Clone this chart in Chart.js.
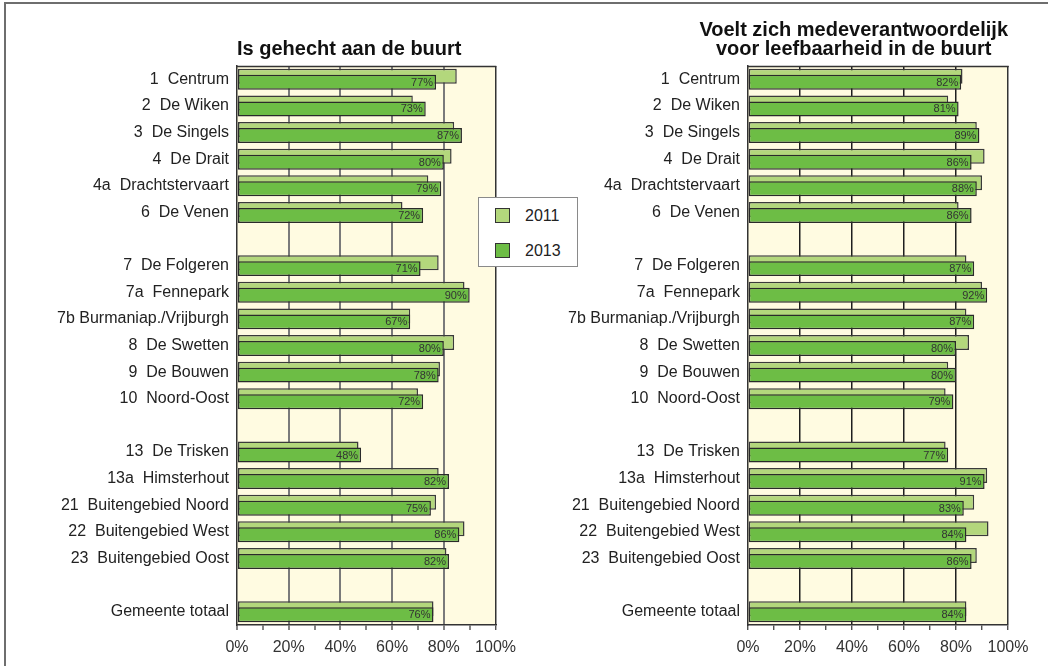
<!DOCTYPE html>
<html>
<head>
<meta charset="utf-8">
<script src="https://cdn.jsdelivr.net/npm/chart.js@4.4.1/dist/chart.umd.min.js"></script>
<style>
  html, body { margin: 0; padding: 0; background: #fff; }
  #page { position: relative; width: 1048px; height: 666px; overflow: hidden;
          font-family: "Liberation Sans", Arial, sans-serif; }
  #frame { position: absolute; left: 4px; top: 2px; width: 1100px; height: 700px;
           border-left: 2px solid #6e6e6e; border-top: 2px solid #6e6e6e; }
  canvas { position: absolute; top: 0; }
  #c1 { left: 0; }
  #c2 { left: 524px; }
  #legend { position: absolute; left: 478px; top: 197px; width: 98px; height: 68px;
            background: #fff; border: 1px solid #8a8a8a; }
  .item { position: absolute; left: 16px; height: 16px; font-size: 16px; line-height: 16px; color: #222; }
  .sw { position: absolute; left: 0; top: 0; width: 13px; height: 13px; border: 1px solid #333; }
  .lbl { position: absolute; left: 30px; top: 0; white-space: nowrap; }
</style>
</head>
<body>
<div id="page">
  <div id="frame"></div>
  <canvas id="c1" width="524" height="666"></canvas>
  <canvas id="c2" width="524" height="666"></canvas>
  <div id="legend"></div>
</div>
<script>
// Wijken (lege regels scheiden de groepen)
const categories = [
  '1  Centrum', '2  De Wiken', '3  De Singels', '4  De Drait', '4a  Drachtstervaart', '6  De Venen',
  '',
  '7  De Folgeren', '7a  Fennepark', '7b Burmaniap./Vrijburgh', '8  De Swetten', '9  De Bouwen', '10  Noord-Oost',
  '',
  '13  De Trisken', '13a  Himsterhout', '21  Buitengebied Noord', '22  Buitengebied West', '23  Buitengebied Oost',
  '',
  'Gemeente totaal'
];

const years = ['2011', '2013'];
const yearColors = ['#b3d77c', '#6dbd45'];

// Is gehecht aan de buurt (%)
const gehecht2011 = [85, 68, 84, 83, 74, 64, null, 78, 88, 67, 84, 78.5, 70, null, 47, 78, 77, 88, 81, null, 76];
const gehecht2013 = [77, 73, 87, 80, 79, 72, null, 71, 90, 67, 80, 78, 72, null, 48, 82, 75, 86, 82, null, 76];

// Voelt zich medeverantwoordelijk voor leefbaarheid in de buurt (%)
const verantw2011 = [82.5, 77, 88, 91, 90, 81, null, 84, 90, 84, 85, 77, 76, null, 76, 92, 87, 92.5, 88, null, 84];
const verantw2013 = [82, 81, 89, 86, 88, 86, null, 87, 92, 87, 80, 80, 79, null, 77, 91, 83, 84, 86, null, 84];

const titleLeft = ['Is gehecht aan de buurt'];
const titleRight = ['Voelt zich medeverantwoordelijk', 'voor leefbaarheid in de buurt'];

const FONT = '"Liberation Sans", Arial, sans-serif';
Chart.defaults.font.family = FONT;
Chart.defaults.color = '#222';

// Cream plot background plus top edge of the plot frame
const plotFrame = {
  id: 'plotFrame',
  beforeDraw(chart) {
    const { ctx, chartArea: a } = chart;
    ctx.save();
    ctx.fillStyle = '#fffbe1';
    ctx.fillRect(a.left, a.top, a.right - a.left, a.bottom - a.top);
    ctx.restore();
  },
  beforeDatasetsDraw(chart) {
    const { ctx, chartArea: a } = chart;
    ctx.save();
    ctx.strokeStyle = '#333';
    ctx.lineWidth = 1.5;
    ctx.beginPath();
    ctx.moveTo(a.left, a.top + 0.5);
    ctx.lineTo(a.right + 0.75, a.top + 0.5);
    ctx.stroke();
    ctx.restore();
  }
};

// 2013 bars are painted over the 2011 bars, then labelled with their value
const overlay = {
  id: 'overlay',
  beforeDatasetDraw(chart, args) {
    if (args.index === 1) return false;
  },
  afterDatasetsDraw(chart) {
    const meta = chart.getDatasetMeta(1);
    meta.controller.draw();
    const values = chart.data.datasets[1].data;
    const ctx = chart.ctx;
    ctx.save();
    ctx.font = '11px ' + FONT;
    ctx.fillStyle = '#333';
    ctx.textAlign = 'right';
    ctx.textBaseline = 'middle';
    meta.data.forEach((bar, i) => {
      const v = values[i];
      if (v == null) return;
      ctx.fillText(v + '%', bar.x - 3, bar.y + 0.5);
    });
    ctx.restore();
  }
};

// Panel heading, centred on its widest line and flush with one side of the plot
const panelTitle = {
  id: 'panelTitle',
  afterDraw(chart, args, opts) {
    const { ctx, chartArea: a } = chart;
    ctx.save();
    ctx.font = 'bold 20px ' + FONT;
    ctx.fillStyle = '#111';
    ctx.textAlign = 'center';
    ctx.textBaseline = 'middle';
    const w = Math.max(...opts.lines.map(l => ctx.measureText(l).width));
    const cx = opts.anchor === 'end' ? a.right - w / 2 : a.left + w / 2;
    const n = opts.lines.length;
    opts.lines.forEach((l, i) => ctx.fillText(l, cx, opts.baseY - (n - 1 - i) * opts.lineHeight));
    ctx.restore();
  }
};

function makePanel(id, lines, anchor, v2011, v2013, gridColor, gridWidth, padRight, axisWidth) {
  return new Chart(document.getElementById(id), {
    type: 'bar',
    data: {
      labels: categories,
      datasets: [
        { label: years[0], data: v2011, backgroundColor: yearColors[0], borderColor: '#3a3a3a',
          borderWidth: 1.5, borderSkipped: false },
        { label: years[1], data: v2013, backgroundColor: yearColors[1], borderColor: '#2a2a2a',
          borderWidth: 1.5, borderSkipped: false }
      ]
    },
    options: {
      indexAxis: 'y',
      responsive: false,
      animation: false,
      devicePixelRatio: 1,
      categoryPercentage: 0.45,
      barPercentage: 2.5,
      layout: { padding: { top: 66, right: padRight, bottom: 0, left: 0 } },
      plugins: {
        legend: { display: false },
        tooltip: { enabled: false },
        panelTitle: { lines: lines, anchor: anchor, baseY: 49, lineHeight: 19 }
      },
      scales: {
        y: {
          type: 'category',
          offset: true,
          grid: { color: 'rgba(0,0,0,0)', drawTicks: false },
          border: { display: true, color: '#333', width: 1.5 },
          ticks: { autoSkip: false, padding: 8, color: '#222', font: { size: 16 } },
          afterFit(s) { s.width = axisWidth; }
        },
        x: {
          type: 'linear',
          min: 0,
          max: 100,
          afterFit(s) { s.height = 41; },
          grid: {
            color: c => {
              const v = c.tick ? c.tick.value : -1;
              if (v === 100) return '#333';
              return (v > 0 && v % 20 === 0) ? gridColor : 'rgba(0,0,0,0)';
            },
            lineWidth: c => (c.tick && c.tick.value === 100) ? 1.5 : gridWidth,
            tickColor: '#333',
            tickLength: 5,
            tickWidth: 1.2
          },
          border: { display: true, color: '#333', width: 1.5 },
          ticks: {
            stepSize: 10,
            autoSkip: false,
            maxRotation: 0,
            padding: 8,
            color: '#333',
            font: { size: 16 },
            callback: v => (v % 20 === 0 ? v + '%' : '')
          }
        }
      }
    },
    plugins: [plotFrame, overlay, panelTitle]
  });
}

makePanel('c1', titleLeft, 'start', gehecht2011, gehecht2013, '#7a7a7a', 2, 27, 237);
makePanel('c2', titleRight, 'end', verantw2011, verantw2013, '#1e1e1e', 1.5, 40, 224);

// Legend
const legend = document.getElementById('legend');
years.forEach((y, i) => {
  const item = document.createElement('div');
  item.className = 'item';
  item.style.top = (10 + i * 35) + 'px';
  const sw = document.createElement('div');
  sw.className = 'sw';
  sw.style.background = yearColors[i];
  const t = document.createElement('span');
  t.className = 'lbl';
  t.textContent = y;
  item.appendChild(sw);
  item.appendChild(t);
  legend.appendChild(item);
});
</script>
</body>
</html>
